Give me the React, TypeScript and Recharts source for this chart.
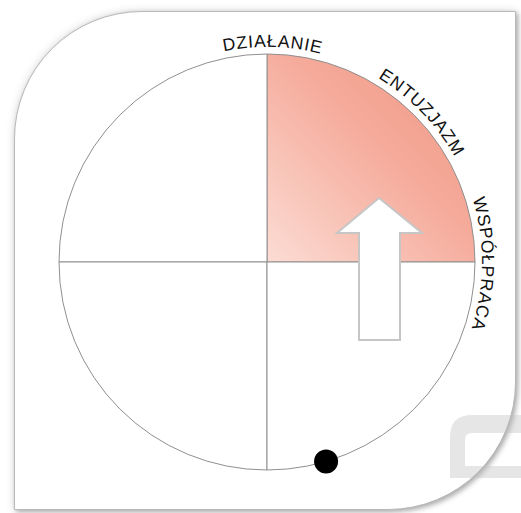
import React from 'react';
import { PieChart, Pie, Cell } from 'recharts';

// four quadrants of the wheel, counted counter-clockwise from 3 o'clock
const quadrants = ['Q1', 'Q2', 'Q3', 'Q4'];
const quadrantValues = [1, 1, 1, 1];
const highlighted = [true, false, false, false];

// labels sit on the rim, angle in degrees (0 = east, counter-clockwise)
const labelTexts = ['DZIAŁANIE', 'ENTUZJAZM', 'WSPÓŁPRACA'];
const labelAngles = [88.5, 44, -0.5];

// position of the marker on the rim
const markerAngle = 286.5;

const CX = 267;
const CY = 262;
const R = 208;
const LABEL_R = 215;

const data = quadrants.map((name, i) => ({ name, value: quadrantValues[i], on: highlighted[i] }));

const polar = (angle: number, radius: number) => {
  const rad = (angle * Math.PI) / 180;
  return { x: CX + radius * Math.cos(rad), y: CY - radius * Math.sin(rad) };
};

const Overlay = () => {
  // clockwise circle path starting at west (180deg), so text stands on the outside
  const p = `M ${CX - LABEL_R} ${CY} A ${LABEL_R} ${LABEL_R} 0 1 1 ${CX + LABEL_R} ${CY} A ${LABEL_R} ${LABEL_R} 0 1 1 ${CX - LABEL_R} ${CY}`;
  const dist = (a: number) => ((((180 - a) % 360) + 360) % 360) * (Math.PI / 180) * LABEL_R;
  const dot = polar(markerAngle, R);
  const u = R / 208;
  const arrow = [
    [112, -64],
    [155, -29],
    [133, -29],
    [133, 78],
    [92, 78],
    [92, -29],
    [70, -29],
  ]
    .map(([x, y]) => `${CX + x * u},${CY + y * u}`)
    .join(' ');
  return (
    <svg width={521} height={513} style={{ position: 'absolute', left: 0, top: 0, pointerEvents: 'none' }}>
      <defs>
        <path id="rimPath" d={p} fill="none" />
      </defs>
      {labelTexts.map((t, i) => (
        <text
          key={t}
          fontFamily="'Liberation Sans', Arial, sans-serif"
          fontSize={17.5}
          letterSpacing={0.9}
          fill="#111111"
          textAnchor="middle"
        >
          <textPath href="#rimPath" startOffset={dist(labelAngles[i])}>
            {t}
          </textPath>
        </text>
      ))}
      <polygon points={arrow} fill="#ffffff" stroke="#c6c6c6" strokeWidth={2} />
      <circle cx={dot.x} cy={dot.y} r={12} fill="#000000" />
      <path
        d="M521,415 H472 Q450,415 450,437 V478 H521 V466 H465 V440 Q465,433 472,433 H521 Z"
        fill="rgba(190,190,190,0.38)"
      />
    </svg>
  );
};

export default function App() {
  return (
    <div style={{ position: 'absolute', left: 0, top: 0, width: 521, height: 513, overflow: 'hidden', background: '#fff' }}>
      <div
        style={{
          position: 'absolute',
          left: 14,
          top: 11,
          width: 500,
          height: 497,
          background: '#fff',
          border: '1px solid #b9b9b9',
          borderRadius: '128px 0 128px 0',
          boxShadow: '2px 2px 5px rgba(0,0,0,0.28), 0 0 10px rgba(0,0,0,0.14)',
        }}
      />
      <div style={{ position: 'absolute', left: 0, top: 0 }}>
        <PieChart width={521} height={513} margin={{ top: 0, right: 0, bottom: 0, left: 0 }}>
          <defs>
            <linearGradient id="quadFill" x1="0" y1="1" x2="1" y2="0">
              <stop offset="0%" stopColor="#fcdcd4" />
              <stop offset="55%" stopColor="#f5ab9b" />
              <stop offset="100%" stopColor="#f0937f" />
            </linearGradient>
          </defs>
          <Pie
            data={data}
            dataKey="value"
            nameKey="name"
            cx={CX}
            cy={CY}
            innerRadius={0}
            outerRadius={R}
            startAngle={0}
            endAngle={360}
            stroke="#8f8f8f"
            strokeWidth={1}
            isAnimationActive={false}
            label={false}
            labelLine={false}
          >
            {data.map((d) => (
              <Cell key={d.name} fill={d.on ? 'url(#quadFill)' : '#ffffff'} />
            ))}
          </Pie>
        </PieChart>
      </div>
      <Overlay />
    </div>
  );
}
